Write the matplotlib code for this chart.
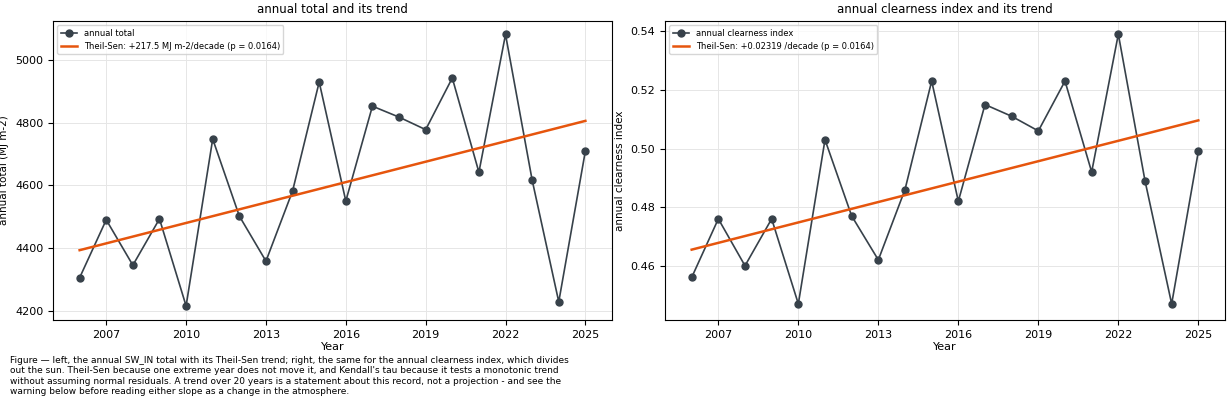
import matplotlib
matplotlib.use("Agg")
import matplotlib.pyplot as plt
import numpy as np

years = list(range(2006, 2026))
annual_total = [4305, 4490, 4345, 4493, 4215, 4748, 4502, 4358, 4582, 4930,
                4550, 4853, 4818, 4778, 4943, 4642, 5082, 4617, 4228, 4710]
clearness = [0.456, 0.476, 0.460, 0.476, 0.447, 0.503, 0.477, 0.462, 0.486, 0.523,
             0.482, 0.515, 0.511, 0.506, 0.523, 0.492, 0.539, 0.489, 0.447, 0.499]
trend_total = [4393, 4806]
trend_clear = [0.4655, 0.5096]
xticks = [2007, 2010, 2013, 2016, 2019, 2022, 2025]

fig = plt.figure(figsize=(12.32, 4.04), dpi=100)
ax1 = fig.add_axes([53/1232, 84/404, 559/1232, 299/404])
ax2 = fig.add_axes([665/1232, 84/404, 560/1232, 299/404])

def panel(ax, y, tr, lab, trlab, ylab, title):
    ax.plot(years, y, '-o', color='#37414a', lw=1.2, ms=5, label=lab)
    ax.plot([years[0], years[-1]], tr, color='#e6550d', lw=1.8, label=trlab)
    ax.set_xticks(xticks)
    ax.set_xlim(2005.0, 2026.0)
    ax.grid(True, color='#e6e6e6', lw=0.7)
    ax.set_xlabel('Year', fontsize=8, labelpad=2)
    ax.set_ylabel(ylab, fontsize=7.5)
    ax.set_title(title, fontsize=8.5)
    ax.tick_params(labelsize=8)
    ax.legend(loc='upper left', fontsize=6)

panel(ax1, annual_total, trend_total, 'annual total',
      'Theil-Sen: +217.5 MJ m-2/decade (p = 0.0164)', 'annual total (MJ m-2)',
      'annual total and its trend')
ax1.set_ylim(4170, 5125)
ax1.set_yticks([4200, 4400, 4600, 4800, 5000])
panel(ax2, clearness, trend_clear, 'annual clearness index',
      'Theil-Sen: +0.02319 /decade (p = 0.0164)', 'annual clearness index',
      'annual clearness index and its trend')
ax2.set_ylim(0.4415, 0.5435)
ax2.set_yticks([0.46, 0.48, 0.50, 0.52, 0.54])

fig.text(10/1232, 8/404,
         "Figure \u2014 left, the annual SW_IN total with its Theil-Sen trend; right, the same for the annual clearness index, which divides\n"
         "out the sun. Theil-Sen because one extreme year does not move it, and Kendall's tau because it tests a monotonic trend\n"
         "without assuming normal residuals. A trend over 20 years is a statement about this record, not a projection - and see the\n"
         "warning below before reading either slope as a change in the atmosphere.",
         fontsize=6.5, va='bottom', ha='left')
fig.savefig('out.png', dpi=100)
